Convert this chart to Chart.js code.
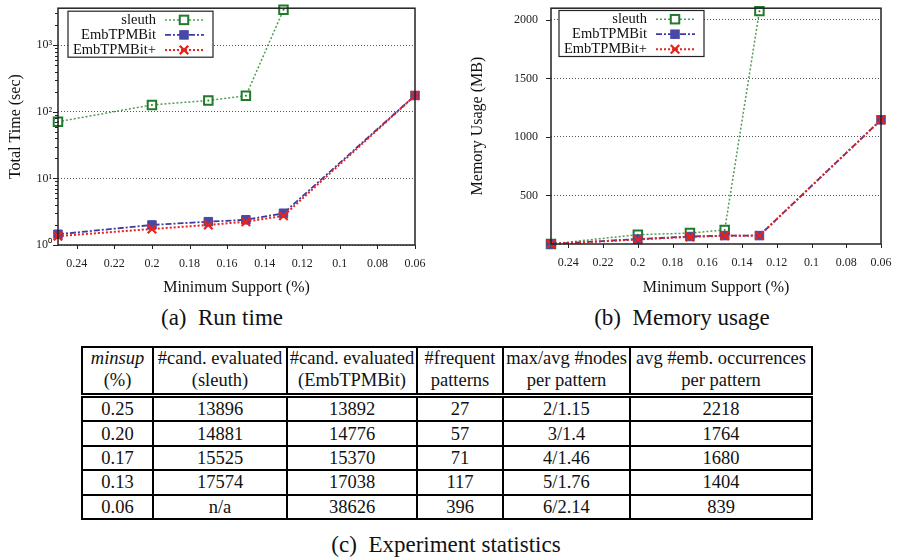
<!DOCTYPE html>
<html>
<head>
<meta charset="utf-8">
<script src="https://cdn.jsdelivr.net/npm/chart.js@4.4.0/dist/chart.umd.min.js"></script>
<style>
  html, body { margin: 0; padding: 0; background: #fff; }
  body { width: 897px; height: 558px; position: relative; overflow: hidden;
         font-family: "Liberation Serif", "Times New Roman", serif; color: #111; }
  #runChart { position: absolute; left: 0; top: 0; }
  #memChart { position: absolute; left: 460px; top: 0; }
  .caption { position: absolute; font-size: 23px; white-space: pre; transform: translate(-50%, -50%); }
  #stats { position: absolute; left: 81px; top: 346px; border-collapse: collapse;
           font-size: 18.5px; table-layout: fixed; border: 2px solid #000; white-space: nowrap; }
  #stats td, #stats th { border: 2px solid #000; padding: 0; text-align: center; font-weight: normal; }
  #stats th { height: 45px; line-height: 22px; vertical-align: top; border-bottom: 5px double #000; }
  #stats th div { position: relative; top: -1px; }
  #stats td { height: 22.4px; line-height: 22px; }
</style>
</head>
<body>
<canvas id="runChart" width="430" height="300"></canvas>
<canvas id="memChart" width="437" height="300"></canvas>
<div class="caption" style="left:222px; top:318px;">(a)  Run time</div>
<div class="caption" style="left:682px; top:318px;">(b)  Memory usage</div>
<table id="stats"></table>
<div class="caption" style="left:446px; top:545px;">(c)  Experiment statistics</div>

<script>
// minimum support values (%) on the x axis
const supports = [0.25, 0.2, 0.17, 0.15, 0.13, 0.06];
const xTicks = [0.24, 0.22, 0.2, 0.18, 0.16, 0.14, 0.12, 0.1, 0.08, 0.06];

// run time (sec), log scale
const runSleuth = [71, 127, 148, 174, 3400, null];
const runEmb = [1.45, 2.0, 2.24, 2.39, 3.0, 176];
const runEmbPlus = [1.36, 1.74, 2.0, 2.24, 2.74, 176];
const runTicks = [1, 10, 100, 1000];

// memory usage (MB)
const memSleuth = [85, 165, 178, 205, 2075, null];
const memEmb = [85, 127, 149, 157, 157, 1146];
const memEmbPlus = [85, 124, 146, 155, 157, 1146];
const memTicks = [500, 1000, 1500, 2000];

// table (c)
const headTop = ['minsup', '#cand. evaluated', '#cand. evaluated', '#frequent', 'max/avg #nodes', 'avg #emb. occurrences'];
const headBottom = ['(%)', '(sleuth)', '(EmbTPMBit)', 'patterns', 'per pattern', 'per pattern'];
const tableMinsup = ['0.25', '0.20', '0.17', '0.13', '0.06'];
const candSleuth = ['13896', '14881', '15525', '17574', 'n/a'];
const candEmb = ['13892', '14776', '15370', '17038', '38626'];
const freqPatterns = ['27', '57', '71', '117', '396'];
const nodesPerPattern = ['2/1.15', '3/1.4', '4/1.46', '5/1.76', '6/2.14'];
const embOccurrences = ['2218', '1764', '1680', '1404', '839'];
const colWidths = [71, 134, 130, 86, 127, 182];

const SERIF = "'Liberation Serif', 'Times New Roman', serif";
const SUP = ['\u2070', '\u00b9', '\u00b2', '\u00b3'];

function points(values) {
    return supports
        .map((s, i) => ({ x: s, y: values[i] }))
        .filter(p => p.y !== null);
}

function buildDatasets(sleuth, emb, embPlus) {
    return [
        {
            label: 'sleuth', data: points(sleuth),
            borderColor: '#4f9d52', borderWidth: 1.5, borderDash: [2, 2],
            pointStyle: 'rect', pointRadius: 6, pointBorderColor: '#1f7a2a',
            pointBackgroundColor: '#fff', pointBorderWidth: 2, order: 2
        },
        {
            // small dot in the middle of the sleuth boxes
            label: '', data: points(sleuth), showLine: false,
            pointStyle: 'circle', pointRadius: 1, pointBackgroundColor: '#1f7a2a',
            pointBorderWidth: 0, order: -1
        },
        {
            label: 'EmbTPMBit', data: points(emb),
            borderColor: '#3b3ba3', borderWidth: 1.8, borderDash: [6, 2, 2, 2],
            pointStyle: 'rect', pointRadius: 6, pointBorderColor: '#4848a8',
            pointBackgroundColor: '#4848a8', pointBorderWidth: 1, order: 1
        },
        {
            label: 'EmbTPMBit+', data: points(embPlus),
            borderColor: '#e8231c', borderWidth: 2, borderDash: [2, 2],
            pointStyle: 'crossRot', pointRadius: 6, pointBorderColor: '#e8231c',
            pointBorderWidth: 2.2, order: 0
        }
    ];
}

// box frame + outward tick marks like gnuplot
const frameTicks = {
    id: 'frameTicks',
    afterDatasetsDraw(chart, args, opts) {
        const { ctx, chartArea: a, scales } = chart;
        ctx.save();
        ctx.strokeStyle = '#222';
        ctx.lineWidth = 1;
        ctx.beginPath();
        xTicks.forEach(v => {
            const px = Math.round(scales.x.getPixelForValue(v)) + 0.5;
            ctx.moveTo(px, a.bottom);
            ctx.lineTo(px, a.bottom + 4);
        });
        opts.yMajor.forEach(v => {
            const py = Math.round(scales.y.getPixelForValue(v)) + 0.5;
            ctx.moveTo(a.left - 5, py);
            ctx.lineTo(a.left, py);
        });
        (opts.yMinor || []).forEach(v => {
            const py = Math.round(scales.y.getPixelForValue(v)) + 0.5;
            ctx.moveTo(a.left - 3, py);
            ctx.lineTo(a.left, py);
        });
        ctx.stroke();
        ctx.lineWidth = 1.5;
        ctx.strokeRect(a.left, a.top, a.right - a.left, a.bottom - a.top);
        ctx.restore();
    }
};

// legend box with label on the left and line sample on the right
const boxLegend = {
    id: 'boxLegend',
    afterDraw(chart, args, opts) {
        const { ctx, chartArea: a } = chart;
        const x0 = a.left + opts.x, y0 = a.top + opts.y;
        ctx.save();
        ctx.fillStyle = '#fff';
        ctx.fillRect(x0, y0, 145, 46);
        ctx.strokeStyle = '#222';
        ctx.lineWidth = 1.2;
        ctx.strokeRect(x0, y0, 145, 46);
        ctx.font = '14.5px ' + SERIF;
        ctx.textAlign = 'right';
        ctx.textBaseline = 'middle';
        chart.data.datasets.filter(d => d.label).forEach((ds, i) => {
            const y = y0 + 8.7 + i * 15;
            ctx.fillStyle = '#111';
            ctx.fillText(ds.label, x0 + 88, y);
            ctx.strokeStyle = ds.borderColor;
            ctx.lineWidth = ds.borderWidth;
            ctx.setLineDash(ds.borderDash);
            ctx.beginPath();
            ctx.moveTo(x0 + 97, y);
            ctx.lineTo(x0 + 136, y);
            ctx.stroke();
            ctx.setLineDash([]);
            const mx = x0 + 116, h = ds.pointRadius * Math.SQRT1_2;
            ctx.strokeStyle = ds.pointBorderColor;
            ctx.lineWidth = ds.pointBorderWidth;
            if (ds.pointStyle === 'rect') {
                ctx.fillStyle = ds.pointBackgroundColor;
                ctx.fillRect(mx - h, y - h, 2 * h, 2 * h);
                ctx.strokeRect(mx - h, y - h, 2 * h, 2 * h);
            } else {
                ctx.beginPath();
                ctx.moveTo(mx - h, y - h); ctx.lineTo(mx + h, y + h);
                ctx.moveTo(mx - h, y + h); ctx.lineTo(mx + h, y - h);
                ctx.stroke();
            }
        });
        ctx.restore();
    }
};

function xScale(height) {
    return {
        type: 'linear', reverse: true, min: 0.06, max: 0.25,
        afterBuildTicks: s => { s.ticks = xTicks.map(v => ({ value: v })); },
        afterFit: s => {
            s.height = height;
            // let the plot area reach the padding edge, labels may overhang
            s.paddingLeft = 0;
            s.paddingRight = 0;
        },
        ticks: {
            font: { family: SERIF, size: 12 }, color: '#222', padding: 12,
            maxRotation: 0, autoSkip: false,
            callback: v => String(Number(v.toFixed(2)))
        },
        grid: { display: false, drawTicks: false },
        border: { display: false },
        title: {
            display: true, text: 'Minimum Support (%)', color: '#111',
            font: { family: SERIF, size: 16 }, padding: { top: 0, bottom: 0 }
        }
    };
}

function yFit(width) {
    return s => {
        s.width = width;
        s.paddingTop = 0;
        s.paddingBottom = 0;
    };
}

function loadRunChart() {
    const minor = [];
    runTicks.forEach(d => {
        for (let m = 2; m <= 9; m++) if (d * m <= 3600) minor.push(d * m);
    });

    new Chart(document.getElementById('runChart'), {
        type: 'line',
        data: { datasets: buildDatasets(runSleuth, runEmb, runEmbPlus) },
        options: {
            responsive: false, animation: false,
            layout: { padding: { top: 4, right: 15, bottom: 3, left: 0 } },
            elements: { line: { tension: 0, fill: false } },
            datasets: { line: { clip: false } },
            plugins: {
                legend: { display: false }, tooltip: { enabled: false },
                boxLegend: { x: 10, y: 3 },
                frameTicks: { yMajor: runTicks, yMinor: minor }
            },
            scales: {
                x: xScale(52),
                y: {
                    type: 'logarithmic', min: 1, max: 3600,
                    afterBuildTicks: s => { s.ticks = runTicks.map(v => ({ value: v })); },
                    afterFit: yFit(58),
                    ticks: {
                        font: { family: SERIF, size: 12 }, color: '#222', padding: 6,
                        callback: v => '10' + SUP[Math.round(Math.log10(v))]
                    },
                    grid: { color: '#555', lineWidth: 1, drawTicks: false },
                    border: { display: false, dash: [1, 2] },
                    title: {
                        display: true, text: 'Total Time (sec)', color: '#111',
                        font: { family: SERIF, size: 16 }, padding: { top: 6, bottom: 0 }
                    }
                }
            }
        },
        plugins: [frameTicks, boxLegend]
    });
}

function loadMemChart() {
    new Chart(document.getElementById('memChart'), {
        type: 'line',
        data: { datasets: buildDatasets(memSleuth, memEmb, memEmbPlus) },
        options: {
            responsive: false, animation: false,
            layout: { padding: { top: 5, right: 16, bottom: 3, left: 0 } },
            elements: { line: { tension: 0, fill: false } },
            datasets: { line: { clip: false } },
            plugins: {
                legend: { display: false }, tooltip: { enabled: false },
                boxLegend: { x: 8, y: 2.3 },
                frameTicks: { yMajor: memTicks }
            },
            scales: {
                x: xScale(53),
                y: {
                    type: 'linear', min: 85, max: 2100,
                    afterBuildTicks: s => { s.ticks = memTicks.map(v => ({ value: v })); },
                    afterFit: yFit(91),
                    ticks: {
                        font: { family: SERIF, size: 12 }, color: '#222', padding: 13,
                        callback: v => String(v)
                    },
                    grid: { color: '#555', lineWidth: 1, drawTicks: false },
                    border: { display: false, dash: [1, 2] },
                    title: {
                        display: true, text: 'Memory Usage (MB)', color: '#111',
                        font: { family: SERIF, size: 16 }, padding: { top: 8, bottom: 0 }
                    }
                }
            }
        },
        plugins: [frameTicks, boxLegend]
    });
}

function loadTable() {
    const table = document.getElementById('stats');
    let html = '<colgroup>' + colWidths.map(w => `<col style="width:${w}px">`).join('') + '</colgroup>';
    html += '<tr>' + headTop.map((t, i) => {
        const top = i === 0 ? `<i>${t}</i>` : t;
        return `<th><div>${top}<br>${headBottom[i]}</div></th>`;
    }).join('') + '</tr>';
    tableMinsup.forEach((m, r) => {
        const cells = [m, candSleuth[r], candEmb[r], freqPatterns[r], nodesPerPattern[r], embOccurrences[r]];
        html += '<tr>' + cells.map(c => `<td>${c}</td>`).join('') + '</tr>';
    });
    table.innerHTML = html;
}

loadRunChart();
loadMemChart();
loadTable();
</script>
</body>
</html>
